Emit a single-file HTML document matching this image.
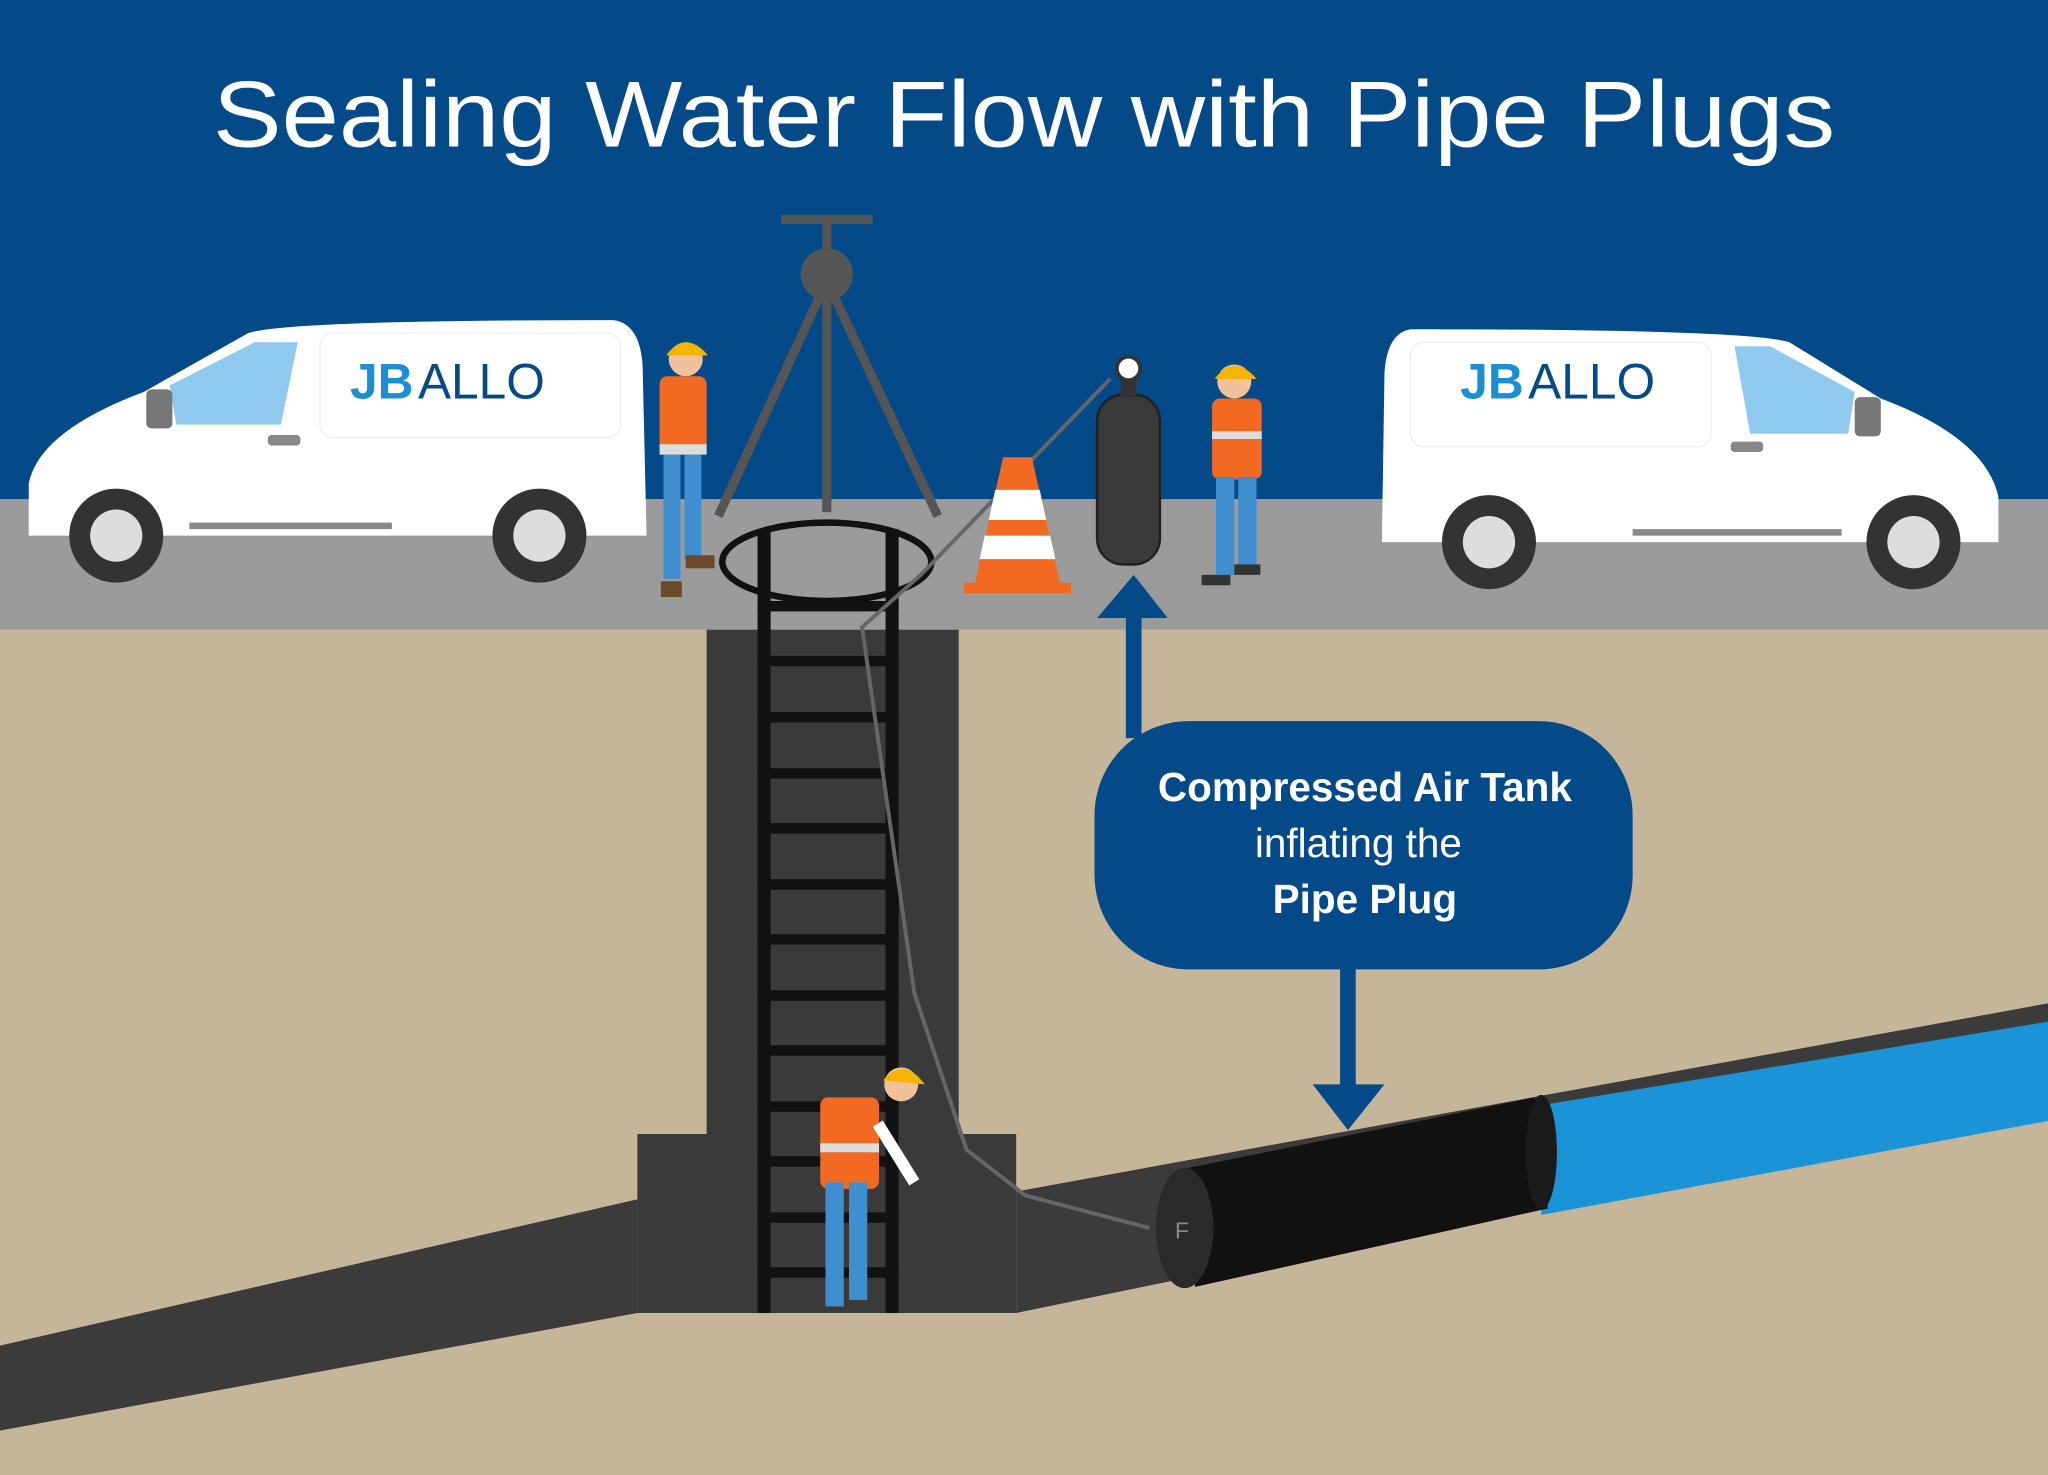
<!DOCTYPE html>
<html><head><meta charset="utf-8"><style>
html,body{margin:0;padding:0;width:2048px;height:1475px;overflow:hidden;background:#c4b69a}
svg{display:block}
</style></head><body>
<svg width="2048" height="1475" viewBox="0 0 1568 1129" preserveAspectRatio="none" xmlns="http://www.w3.org/2000/svg">
<rect x="0" y="0" width="1568" height="383" fill="#054a88"/>
<rect x="0" y="382" width="1568" height="100" fill="#9b9b9b"/>
<rect x="0" y="482" width="1568" height="647" fill="#c5b699"/>
<text x="163" y="112" fill="#fff" font-family="Liberation Sans, sans-serif" font-size="72" textLength="1242" lengthAdjust="spacingAndGlyphs">Sealing Water Flow with Pipe Plugs</text>

<!-- pipes -->
<polygon points="0,1030 488,918 488,1005 0,1095" fill="#3b3b3b"/>
<polygon points="778,912 1568,768 1568,842 778,1005" fill="#3b3b3b"/>
<polygon points="1180,846 1568,782 1568,858 1180,930" fill="#1a94d6"/>
<!-- plug -->
<polygon points="905,895 1175,840 1185,925 915,985" fill="#111"/>
<ellipse cx="1180" cy="882" rx="12" ry="44" fill="#1a1a1a"/>
<ellipse cx="907" cy="940" rx="22" ry="46" fill="#2a2a2a"/>
<text x="905" y="948" fill="#888" font-family="Liberation Sans, sans-serif" font-size="18" text-anchor="middle">F</text>

<!-- shaft -->
<rect x="541" y="482" width="193" height="523" fill="#3a3a3a"/>
<rect x="488" y="868" width="290" height="137" fill="#3a3a3a"/>
<!-- ladder -->
<g fill="#111">
<rect x="580" y="405" width="10" height="600"/>
<rect x="678" y="405" width="10" height="600"/>
<rect x="580" y="460" width="108" height="8"/><rect x="580" y="502" width="108" height="8"/>
<rect x="580" y="545" width="108" height="8"/><rect x="580" y="588" width="108" height="8"/>
<rect x="580" y="630" width="108" height="8"/><rect x="580" y="673" width="108" height="8"/>
<rect x="580" y="715" width="108" height="8"/><rect x="580" y="758" width="108" height="8"/>
<rect x="580" y="800" width="108" height="8"/><rect x="580" y="843" width="108" height="8"/>
<rect x="580" y="885" width="108" height="8"/><rect x="580" y="928" width="108" height="8"/>
<rect x="580" y="970" width="108" height="8"/>
</g>
<ellipse cx="633" cy="430" rx="80" ry="30" fill="none" stroke="#111" stroke-width="5"/>
<!-- hose -->
<polyline points="850,290 705,440 660,480 700,760 740,880 785,915 880,940" fill="none" stroke="#666" stroke-width="3"/>

<!-- tripod -->
<g stroke="#555" stroke-width="7" fill="none">
<line x1="598" y1="168" x2="668" y2="168"/><line x1="633" y1="168" x2="633" y2="392"/>
<line x1="633" y1="215" x2="550" y2="395"/><line x1="633" y1="215" x2="718" y2="395"/>
</g>
<circle cx="633" cy="210" r="20" fill="#555"/>

<!-- cone -->
<polygon points="768,350 790,350 812,448 746,448" fill="#f26a21"/>
<polygon points="762,375 796,375 801,398 757,398" fill="#fff"/>
<polygon points="754,410 804,410 808,428 750,428" fill="#fff"/>
<rect x="738" y="446" width="82" height="8" fill="#f26a21"/>

<!-- tank -->
<rect x="840" y="302" width="48" height="130" rx="20" fill="#3a3a3a" stroke="#222" stroke-width="2"/>
<rect x="858" y="290" width="12" height="14" fill="#333"/>
<circle cx="864" cy="282" r="9" fill="#fff" stroke="#333" stroke-width="3"/>

<!-- arrows -->
<rect x="862" y="470" width="12" height="95" fill="#054a88"/>
<polygon points="840,473 868,440 894,473" fill="#054a88"/>
<rect x="1026" y="740" width="12" height="95" fill="#054a88"/>
<polygon points="1005,830 1032,865 1060,830" fill="#054a88"/>
<rect x="838" y="552" width="412" height="190" rx="72" fill="#054a88"/>
<g fill="#fff" font-family="Liberation Sans, sans-serif" font-size="31" text-anchor="middle">
<text x="1045" y="613" font-weight="bold">Compressed Air Tank</text>
<text x="1040" y="656">inflating the</text>
<text x="1045" y="699" font-weight="bold">Pipe Plug</text>
</g>

<!-- left van -->
<g>
<path d="M22,370 Q30,330 110,300 L190,255 Q220,245 470,245 Q490,248 492,280 L495,410 L22,410 Z" fill="#fff"/>
<path d="M130,295 L195,262 L228,262 L215,325 L135,325 Z" fill="#8fc9ee"/>
<rect x="112" y="298" width="20" height="30" rx="4" fill="#777"/>
<rect x="245" y="255" width="230" height="80" rx="10" fill="#fff" stroke="#eee"/>
<text x="268" y="305" fill="#1a8fd4" font-family="Liberation Sans, sans-serif" font-size="38" font-weight="bold">JB</text>
<text x="320" y="305" fill="#054a88" font-family="Liberation Sans, sans-serif" font-size="38">ALLO</text>
<rect x="205" y="333" width="25" height="8" rx="3" fill="#888"/>
<rect x="145" y="400" width="155" height="5" fill="#888"/>
<circle cx="89" cy="410" r="36" fill="#333"/><circle cx="89" cy="410" r="20" fill="#ddd"/>
<circle cx="413" cy="410" r="36" fill="#333"/><circle cx="413" cy="410" r="20" fill="#ddd"/>
</g>
<!-- right van -->
<g>
<path d="M1530,380 Q1520,335 1440,305 L1370,262 Q1340,252 1080,252 Q1062,255 1060,285 L1058,415 L1530,415 Z" fill="#fff"/>
<path d="M1420,300 L1355,265 L1328,265 L1340,332 L1415,332 Z" fill="#8fc9ee"/>
<rect x="1420" y="304" width="20" height="30" rx="4" fill="#777"/>
<rect x="1080" y="262" width="230" height="80" rx="10" fill="#fff" stroke="#eee"/>
<text x="1118" y="305" fill="#1a8fd4" font-family="Liberation Sans, sans-serif" font-size="38" font-weight="bold">JB</text>
<text x="1170" y="305" fill="#054a88" font-family="Liberation Sans, sans-serif" font-size="38">ALLO</text>
<rect x="1325" y="338" width="25" height="8" rx="3" fill="#888"/>
<rect x="1250" y="405" width="160" height="5" fill="#888"/>
<circle cx="1140" cy="415" r="36" fill="#333"/><circle cx="1140" cy="415" r="20" fill="#ddd"/>
<circle cx="1465" cy="415" r="36" fill="#333"/><circle cx="1465" cy="415" r="20" fill="#ddd"/>
</g>

<!-- workers -->
<g>
<circle cx="525" cy="275" r="13" fill="#f0c19a"/><path d="M510,272 Q525,252 542,272 Z" fill="#f5b400"/>
<rect x="505" y="288" width="36" height="60" rx="6" fill="#f26a21"/>
<rect x="505" y="340" width="36" height="8" fill="#ddd"/>
<rect x="508" y="348" width="13" height="95" fill="#3f8fd0"/><rect x="524" y="348" width="13" height="80" fill="#3f8fd0"/>
<rect x="506" y="445" width="16" height="12" fill="#6b4a2a"/><rect x="525" y="425" width="22" height="10" fill="#6b4a2a"/>
</g>
<g>
<circle cx="945" cy="292" r="13" fill="#f0c19a"/><path d="M930,290 Q945,270 962,290 Z" fill="#f5b400"/>
<rect x="928" y="305" width="38" height="62" rx="6" fill="#f26a21"/>
<rect x="928" y="330" width="38" height="6" fill="#ddd"/>
<rect x="931" y="365" width="14" height="75" fill="#3f8fd0"/><rect x="948" y="365" width="14" height="70" fill="#3f8fd0"/>
<rect x="920" y="440" width="22" height="8" fill="#333"/><rect x="945" y="432" width="20" height="8" fill="#333"/>
</g>
<g>
<circle cx="690" cy="830" r="13" fill="#f0c19a"/><path d="M676,827 Q692,808 708,830 Z" fill="#f5b400"/>
<rect x="628" y="840" width="45" height="70" rx="6" fill="#f26a21"/>
<rect x="628" y="875" width="45" height="7" fill="#ddd"/>
<rect x="632" y="905" width="14" height="95" fill="#3f8fd0"/><rect x="650" y="905" width="14" height="90" fill="#3f8fd0"/>
<line x1="672" y1="860" x2="700" y2="905" stroke="#fff" stroke-width="9"/>
</g>
</svg>
</body></html>
